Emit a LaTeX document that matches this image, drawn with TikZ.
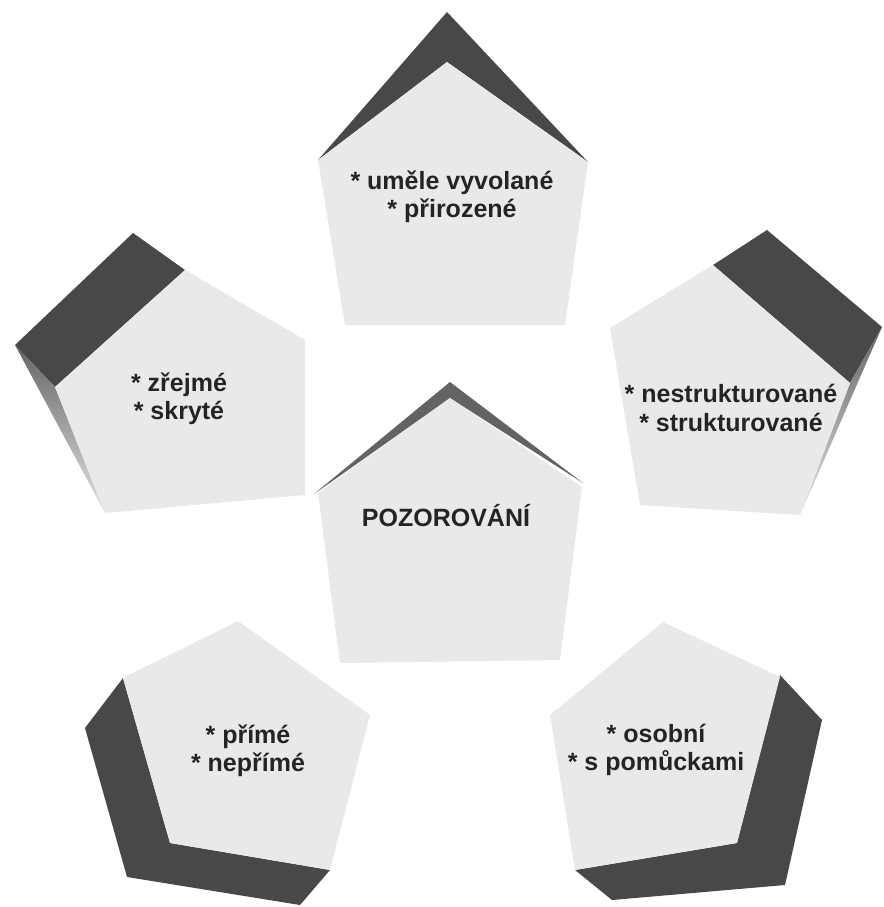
\documentclass[tikz,border=0pt]{standalone}
\usepackage{fontspec}
\setmainfont{Liberation Sans}
\begin{document}
\begin{tikzpicture}[x=1pt,y=-1pt,
  face/.style={fill=facegrey},
  side/.style={fill=sidegrey},
  lbl/.style={font=\bfseries\fontsize{25}{28.5}\selectfont, text=textgrey, align=center, inner sep=0pt}]
\definecolor{facegrey}{HTML}{E9E9EB}
\definecolor{sidegrey}{HTML}{484848}
\definecolor{textgrey}{HTML}{242424}
\useasboundingbox (0,0) rectangle (883,907);
\fill[white] (0,0) rectangle (883,907);

% top
\fill[side] (318,160) -- (447,12) -- (588,162) -- (447,62) -- cycle;
\fill[face] (447,62) -- (318,160) -- (345,325) -- (565,325) -- (588,162) -- cycle;
% left
\fill[side] (15,345) -- (133,233) -- (185,270) -- (55,387) -- cycle;
\shade[top color=sidegrey!85, bottom color=sidegrey!15] (15,345) -- (55,387) -- (105,513) -- cycle;
\fill[face] (185,270) -- (305,340) -- (305,495) -- (105,513) -- (55,387) -- cycle;
% right
\fill[side] (713,265) -- (767,230) -- (882,327) -- (850,383) -- cycle;
\shade[top color=sidegrey!85, bottom color=sidegrey!15] (882,327) -- (850,383) -- (800,515) -- cycle;
\fill[face] (713,265) -- (610,328) -- (640,505) -- (800,515) -- (850,383) -- cycle;
% centre
\fill[sidegrey!85] (314,494) -- (450,382) -- (583,483) -- (450,398) -- cycle;
\fill[face] (450,398) -- (318,493) -- (340,663) -- (560,660) -- (582,487) -- cycle;
% bottom left
\fill[side] (123,678) -- (85,728) -- (127,877) -- (300,905) -- (330,870) -- (170,843) -- cycle;
\fill[face] (123,678) -- (238,621) -- (370,715) -- (330,870) -- (170,843) -- cycle;
% bottom right
\fill[side] (780,675) -- (822,720) -- (785,885) -- (612,900) -- (575,870) -- (737,843) -- cycle;
\fill[face] (575,870) -- (737,843) -- (780,677) -- (663,622) -- (550,715) -- cycle;

\node[lbl] (top) at (452,197) {* uměle vyvolané\\* přirozené};
\node[lbl] (left) at (179,399) {* zřejmé\\* skryté};
\node[lbl] (right) at (731,408) {* nestrukturované\\* strukturované};
\node[lbl] (centre) at (446,516) {POZOROVÁNÍ};
\node[lbl] (bl) at (248,751) {* přímé\\* nepřímé};
\node[lbl] (br) at (656,750) {* osobní\\* s pomůckami};
\end{tikzpicture}
\end{document}
